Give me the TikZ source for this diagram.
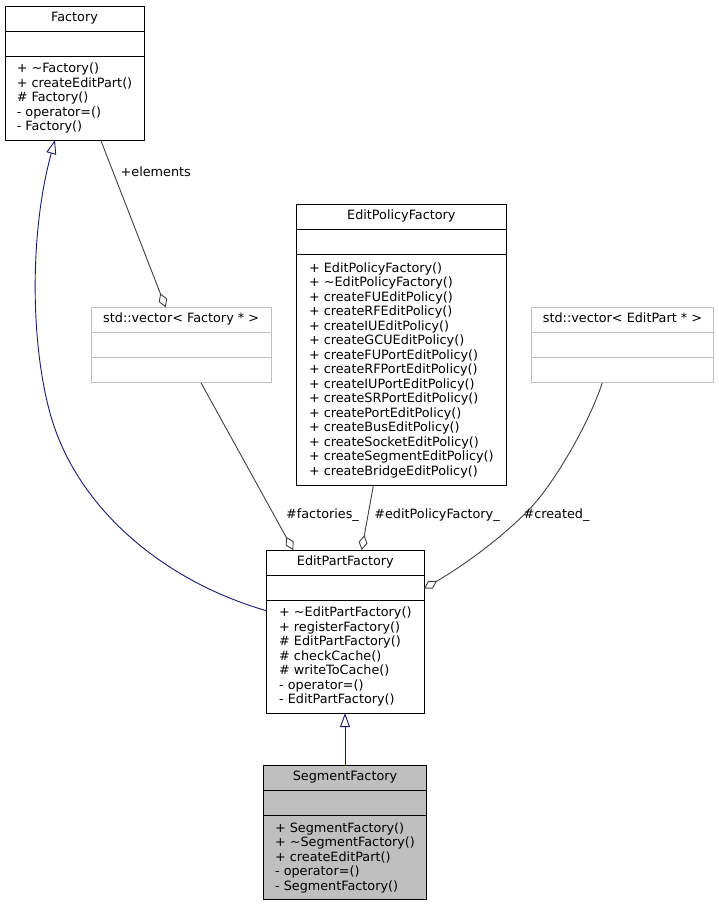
\documentclass[tikz,border=0pt]{standalone}
\usepackage{fontspec}
\setmainfont{DejaVu Sans}
\usetikzlibrary{positioning,arrows.meta}

\definecolor{inhblue}{RGB}{25,25,112}
\definecolor{agggray}{RGB}{64,64,64}
\definecolor{extgray}{RGB}{191,191,191}
\definecolor{selgray}{RGB}{191,191,191}
\newcommand{\umlfont}{\fontsize{12.8}{14.5}\selectfont}

\begin{document}
\begin{tikzpicture}[
      x=1pt, y=-1pt,
      box/.style = {
        draw=black,
        line width=1pt,
        outer sep=0pt,
        inner sep=0pt,
        font=\umlfont
      },
      title/.style = {
        box,
        minimum height=25.5pt,
        text height=0.76em,
        text depth=0.24em
      },
      attrs/.style = {
        box,
        minimum height=25pt
      },
      ops/.style = {
        box,
        align=left
      },
      ext/.style = {
        draw=extgray
      },
      sel/.style = {
        fill=selgray
      },
      lbl/.style = {
        font=\umlfont,
        inner sep=0pt,
        text height=0.76em,
        text depth=0.24em
      },
      inh/.style = {
        draw=inhblue,
        line width=0.9pt,
        -{Triangle[open,length=14pt,width=10pt]}
      },
      agg/.style = {
        draw=agggray,
        line width=0.9pt,
        -{Diamond[open,length=15pt,width=9pt]}
      }
    ]
    \useasboundingbox (0,0) rectangle (719,905);

    % Factory
    \node[title, minimum width=139pt, anchor=north west] (fac) at (5,6) {Factory};
    \node[attrs, minimum width=139pt, below=0pt of fac] (fac-a) {};
    \node[ops, minimum width=139pt, minimum height=83.5pt, below=0pt of fac-a] (fac-o) {%
      + \textasciitilde Factory()\\
      + createEditPart()\\
      \# Factory()\\
      - operator=()\\
      - Factory()};

    % std::vector< Factory * >
    \node[title, ext, minimum width=180.3pt, anchor=north west] (vecfac) at (91,307.3) {std::vector< Factory * >};
    \node[attrs, ext, minimum width=180.3pt, below=0pt of vecfac] (vecfac-a) {};
    \node[ops, ext, minimum width=180.3pt, minimum height=25pt, below=0pt of vecfac-a] (vecfac-o) {};

    % EditPolicyFactory
    \node[title, minimum width=210.7pt, anchor=north west] (epol) at (296,204.3) {EditPolicyFactory};
    \node[attrs, minimum width=210.7pt, below=0pt of epol] (epol-a) {};
    \node[ops, minimum width=210.7pt, minimum height=231pt, below=0pt of epol-a] (epol-o) {%
      + EditPolicyFactory()\\
      + \textasciitilde EditPolicyFactory()\\
      + createFUEditPolicy()\\
      + createRFEditPolicy()\\
      + createIUEditPolicy()\\
      + createGCUEditPolicy()\\
      + createFUPortEditPolicy()\\
      + createRFPortEditPolicy()\\
      + createIUPortEditPolicy()\\
      + createSRPortEditPolicy()\\
      + createPortEditPolicy()\\
      + createBusEditPolicy()\\
      + createSocketEditPolicy()\\
      + createSegmentEditPolicy()\\
      + createBridgeEditPolicy()};

    % std::vector< EditPart * >
    \node[title, ext, minimum width=181.6pt, anchor=north west] (vecep) at (531.7,307.3) {std::vector< EditPart * >};
    \node[attrs, ext, minimum width=181.6pt, below=0pt of vecep] (vecep-a) {};
    \node[ops, ext, minimum width=181.6pt, minimum height=25pt, below=0pt of vecep-a] (vecep-o) {};

    % EditPartFactory
    \node[title, minimum width=157.3pt, anchor=north west] (epf) at (266.7,550) {EditPartFactory};
    \node[attrs, minimum width=157.3pt, below=0pt of epf] (epf-a) {};
    \node[ops, minimum width=157.3pt, minimum height=112.6pt, below=0pt of epf-a] (epf-o) {%
      + \textasciitilde EditPartFactory()\\
      + registerFactory()\\
      \# EditPartFactory()\\
      \# checkCache()\\
      \# writeToCache()\\
      - operator=()\\
      - EditPartFactory()};

    % SegmentFactory
    \node[title, sel, minimum width=163.4pt, anchor=north west] (seg) at (263.3,765) {SegmentFactory};
    \node[attrs, sel, minimum width=163.4pt, below=0pt of seg] (seg-a) {};
    \node[ops, sel, minimum width=163.4pt, minimum height=84.3pt, below=0pt of seg-a] (seg-o) {%
      + SegmentFactory()\\
      + \textasciitilde SegmentFactory()\\
      + createEditPart()\\
      - operator=()\\
      - SegmentFactory()};

    % inheritance
    \draw[inh] ([yshift=-10.3pt]epf-o.north west) .. controls (160,580) and (75,505) .. (50,413)
      .. controls (30,340) and (30,230) .. ([xshift=50pt]fac-o.south west);
    \draw[inh] (seg.north) -- (seg.north |- epf-o.south);

    % aggregation
    \draw[agg] ([xshift=95.7pt]fac-o.south west) -- ([xshift=74.7pt]vecfac.north west);
    \draw[agg] ([xshift=110pt]vecfac-o.south west) -- ([xshift=26.6pt]epf.north west);
    \draw[agg] ([xshift=77.3pt]epol-o.south west) -- ([xshift=95pt]epf.north west);
    \draw[agg] ([xshift=70.6pt]vecep-o.south west) .. controls (590,420) and (562,469) .. (540,497)
      .. controls (518,525) and (470,562) .. ([yshift=-13pt]epf-a.north east);

    \node[lbl] (elements-lbl) at (155.8,173.5) {+elements};
    \node[lbl] (factories-lbl) at (322.5,516) {\#factories\_};
    \node[lbl] (policy-lbl) at (437,516) {\#editPolicyFactory\_};
    \node[lbl] (created-lbl) at (556.5,516) {\#created\_};
  \end{tikzpicture}
\end{document}
